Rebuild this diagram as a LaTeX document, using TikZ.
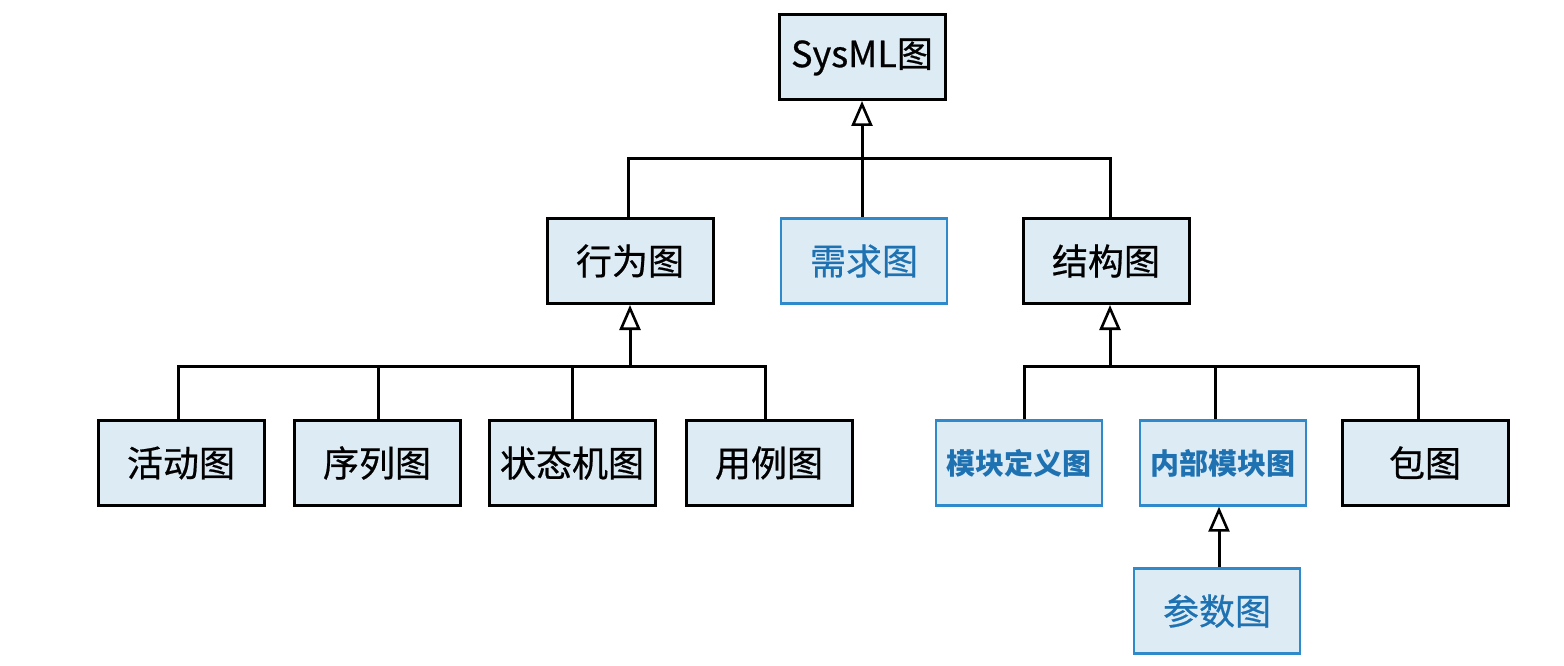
\documentclass[tikz,border=0pt]{standalone}
\usepackage{fontspec}
\setmainfont{Noto Sans CJK SC}
\newfontfamily\medfont[FakeBold=0.6]{Noto Sans CJK SC}
\usetikzlibrary{arrows.meta}
\definecolor{boxfill}{HTML}{DDEBF4}
\definecolor{bluetxt}{HTML}{1F72B2}
\definecolor{blueline}{HTML}{2F8ACB}
\tikzset{
  box/.style={draw=black, line width=3pt, fill=boxfill, minimum width=166pt, minimum height=85pt, inner sep=0pt, font=\fontsize{36}{42}\selectfont\medfont},
  bbox/.style={box, draw=blueline, line width=2.4pt, text=bluetxt},
  bboxsmall/.style={bbox, font=\fontsize{29}{34}\selectfont\rmfamily\bfseries},
  conn/.style={draw=black, line width=3pt},
  gen/.style={conn, {Triangle[open, length=25pt, width=21pt, fill=white, line width=2.6pt]}-}
}
\begin{document}
\begin{tikzpicture}[x=1pt,y=-1pt]
\useasboundingbox (0,0) rectangle (1564,666);
\fill[white] (0,0) rectangle (1564,666);
% top
\node[box] (sysml) at (862,57) {SysML图};
\node[box] (behav) at (630,261) {行为图};
\node[bbox] (req) at (864,261) {需求图};
\node[box] (struct) at (1106,261) {结构图};
% behaviour children
\node[box] (act) at (181,463) {活动图};
\node[box] (seq) at (377,463) {序列图};
\node[box] (stm) at (572,463) {状态机图};
\node[box] (uc) at (769,463) {用例图};
% structure children
\node[bboxsmall] (bdd) at (1019,463) {模块定义图};
\node[bboxsmall] (ibd) at (1223,463) {内部模块图};
\node[box] (pkg) at (1425,463) {包图};
\node[bbox] (par) at (1217,611) {参数图};
% junctions
\coordinate (j1) at (862,159);
\coordinate (j2) at (630,366);
\coordinate (j3) at (1110,366);
% connectors
\draw[gen] (sysml.south) -- (j1);
\draw[conn] (behav.north -| 628,0) |- (j1) -| (struct.north -| 1110,0);
\draw[conn] (j1) -- (j1 |- req.north);
\draw[gen] (behav.south) -- (j2);
\draw[conn] (act.north -| 178,0) |- (j2) -| (uc.north -| 765,0);
\draw[conn] (seq.north -| 378,0) -- (378,366);
\draw[conn] (stm.north) -- (stm.north |- j2);
\draw[gen] (struct.south -| j3) -- (j3);
\draw[conn] (bdd.north -| 1024,0) |- (j3) -| (pkg.north -| 1418,0);
\draw[conn] (ibd.north -| 1215,0) -- (1215,366);
\draw[gen] (ibd.south -| 1219,0) -- (par.north -| 1219,0);
\end{tikzpicture}
\end{document}
